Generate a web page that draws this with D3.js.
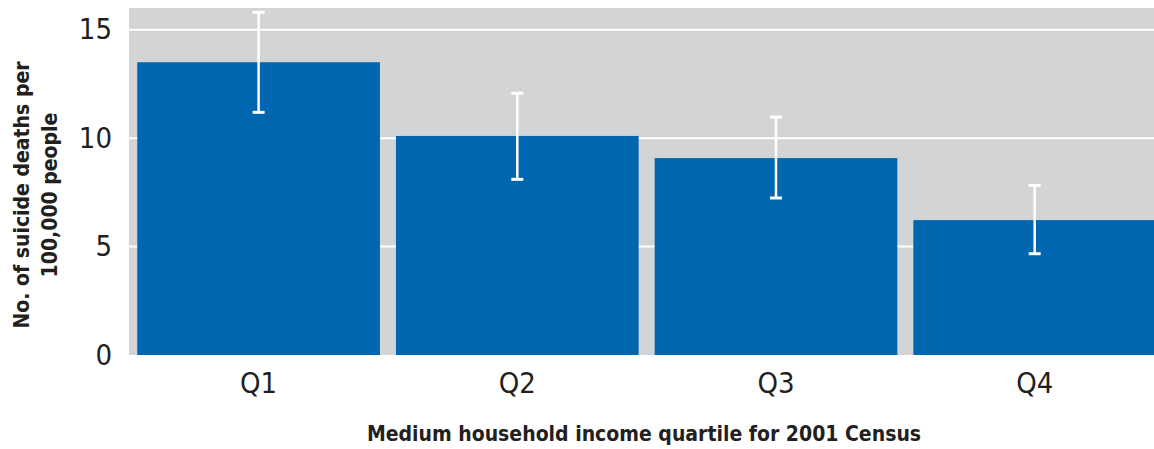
<!DOCTYPE html>
<html><head><meta charset="utf-8">
<script src="https://cdn.jsdelivr.net/npm/d3@7"></script>
<style>
html,body{margin:0;padding:0;background:#fff;}
svg{display:block;}
text{font-family:"Liberation Sans Narrow","DejaVu Sans Condensed","Noto Sans",sans-serif;fill:#231f20;}
</style></head>
<body>
<svg id="chart" width="1154" height="449"></svg>
<script>
const categories = ["Q1","Q2","Q3","Q4"];
const rates = [13.5, 10.1, 9.08, 6.22];
const ciLow = [11.19, 8.1, 7.24, 4.67];
const ciHigh = [15.8, 12.07, 10.97, 7.82];
const yTicks = [0, 5, 10, 15];
const xTitle = "Medium household income quartile for 2001 Census";
const yTitleLines = ["No. of suicide deaths per", "100,000 people"];

const svg = d3.select("#chart");
const plotLeft = 129, plotTop = 8, plotBottom = 355, plotRight = 1164.3;

const y = d3.scaleLinear().domain([0, 16]).range([plotBottom, plotTop]);
const x = d3.scaleBand().domain(categories).range([plotLeft, plotRight])
  .paddingInner(0.062).paddingOuter(0.032);

// background
svg.append("rect").attr("x", plotLeft).attr("y", plotTop)
  .attr("width", 1154 - plotLeft).attr("height", plotBottom - plotTop)
  .attr("fill", "#d3d4d6");

// gridlines
svg.append("g").selectAll("line").data(yTicks.filter(d => d > 0)).join("line")
  .attr("x1", plotLeft).attr("x2", 1154)
  .attr("y1", d => y(d)).attr("y2", d => y(d))
  .attr("stroke", "#ffffff").attr("stroke-width", 2);

// bars
svg.append("g").selectAll("rect").data(categories).join("rect")
  .attr("x", d => x(d)).attr("width", x.bandwidth())
  .attr("y", (d, i) => y(rates[i]))
  .attr("height", (d, i) => y(0) - y(rates[i]))
  .attr("fill", "#0066b0");

// error bars
const eb = svg.append("g").attr("stroke", "#ffffff");
categories.forEach((c, i) => {
  const cx = x(c) + x.bandwidth() / 2;
  eb.append("line").attr("x1", cx).attr("x2", cx)
    .attr("y1", y(ciLow[i])).attr("y2", y(ciHigh[i])).attr("stroke-width", 2.5);
  [ciLow[i], ciHigh[i]].forEach(v => {
    eb.append("line").attr("x1", cx - 6).attr("x2", cx + 6)
      .attr("y1", y(v)).attr("y2", y(v)).attr("stroke-width", 3);
  });
});

// y axis
const yAxis = d3.axisLeft(y).tickValues(yTicks).tickSize(0).tickPadding(0);
const gy = svg.append("g").attr("transform", `translate(112,0)`).call(yAxis);
gy.select(".domain").remove();
gy.selectAll("text").style("font-size", "29px").style("font-family", null).attr("fill", "#231f20");

// x axis
const xAxis = d3.axisBottom(x).tickSize(0).tickPadding(0);
const gx = svg.append("g").attr("transform", `translate(0,371)`).call(xAxis);
gx.select(".domain").remove();
gx.selectAll("text").style("font-size", "29px").style("font-family", null).attr("fill", "#231f20")
  .attr("dy", "0.75em");

// x title
svg.append("text").attr("x", 644).attr("y", 441).attr("text-anchor", "middle")
  .style("font-size", "21px").style("font-weight", "bold").text(xTitle);

// y title
const yt = svg.append("text").attr("transform", "translate(0,195) rotate(-90)")
  .attr("text-anchor", "middle").style("font-size", "21px").style("font-weight", "bold");
yTitleLines.forEach((l, i) => {
  yt.append("tspan").attr("x", 0).attr("y", 29 + i * 28).text(l);
});
</script>
</body></html>
